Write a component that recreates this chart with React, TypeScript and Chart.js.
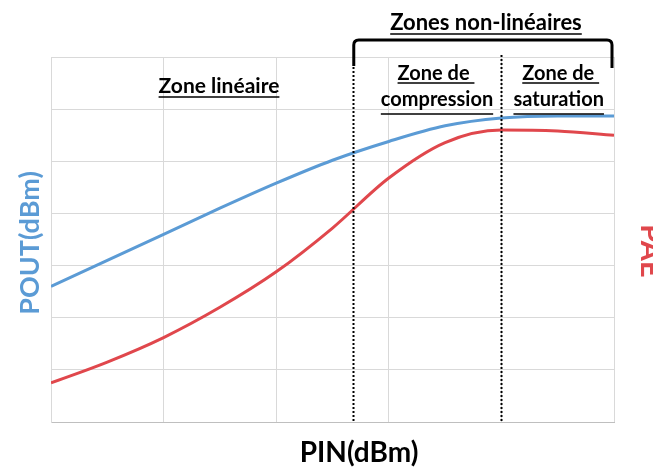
import React, { useEffect, useRef } from "react";
import { Chart, registerables } from "chart.js";

Chart.register(...registerables);

const pinValues = [0, 0.5, 1, 1.5, 2, 2.5, 3, 3.5, 4, 4.5, 5];
const poutValues = [2.6, 3.1, 3.6, 4.1, 4.58, 5.02, 5.38, 5.68, 5.83, 5.87, 5.87];
const paeValues = [0.75, 1.15, 1.62, 2.2, 2.88, 3.72, 4.68, 5.36, 5.6, 5.58, 5.5];
const zoneBoundaries = [2.68, 4];
const xTicks = [0, 1, 2, 3, 4, 5];
const yTicks = [0, 1, 2, 3, 4, 5, 6, 7];

const FONT = "Lato, 'Open Sans', sans-serif";

function underlinedText(ctx: CanvasRenderingContext2D, text: string, x: number, y: number, size: number, ul = 4) {
  ctx.font = `bold ${size}px ${FONT}`;
  ctx.textAlign = "center";
  ctx.textBaseline = "alphabetic";
  ctx.fillStyle = "#000";
  ctx.fillText(text, x, y);
  const w = ctx.measureText(text).width;
  ctx.strokeStyle = "#000";
  ctx.lineWidth = 1.6;
  ctx.beginPath();
  ctx.moveTo(x - w / 2, y + ul);
  ctx.lineTo(x + w / 2, y + ul);
  ctx.stroke();
}

const annotations = {
  id: "annotations",
  afterDraw(chart: any) {
    const ctx: CanvasRenderingContext2D = chart.ctx;
    const xs = chart.scales.x;
    const area = chart.chartArea;
    ctx.save();
    // dotted zone boundaries
    ctx.strokeStyle = "#000";
    ctx.lineWidth = 2;
    ctx.setLineDash([2, 2]);
    const tops = [area.top + 10, area.top - 2];
    zoneBoundaries.forEach((b, i) => {
      const px = Math.round(xs.getPixelForValue(b)) + 0.5;
      ctx.beginPath();
      ctx.moveTo(px, tops[i]);
      ctx.lineTo(px, area.bottom);
      ctx.stroke();
    });
    ctx.setLineDash([]);
    // bracket
    const bl = xs.getPixelForValue(zoneBoundaries[0]);
    const br = area.right - 2;
    ctx.lineWidth = 3;
    ctx.beginPath();
    ctx.moveTo(bl + 1, area.top + 9);
    ctx.lineTo(bl + 1, area.top - 12);
    ctx.quadraticCurveTo(bl + 1, area.top - 17, bl + 6, area.top - 17);
    ctx.lineTo(br - 5, area.top - 17);
    ctx.quadraticCurveTo(br, area.top - 17, br, area.top - 12);
    ctx.lineTo(br, area.top + 11);
    ctx.stroke();

    underlinedText(ctx, "Zones non-linéaires", 486, 30, 22, 4);
    underlinedText(ctx, "Zone linéaire", 219, 93, 21, 4);
    const c1 = 437;
    const c2 = (xs.getPixelForValue(zoneBoundaries[1]) + area.right) / 2 + 1;
    underlinedText(ctx, "Zone de ", c1 - 1, 80, 20, 3);
    underlinedText(ctx, "compression", c1, 106, 20, 8);
    underlinedText(ctx, "Zone de ", c2 + 2, 80, 20, 3);
    underlinedText(ctx, "saturation", c2, 106, 20, 8);

    // axis titles
    ctx.font = `bold 28px ${FONT}`;
    ctx.fillStyle = "#000";
    ctx.textAlign = "center";
    ctx.textBaseline = "middle";
    ctx.fillText("PIN(dBm)", 359, 453);

    ctx.save();
    ctx.translate(30, 243);
    ctx.rotate(-Math.PI / 2);
    ctx.font = `bold 27px ${FONT}`;
    ctx.fillStyle = "#5B9BD5";
    ctx.fillText("POUT(dBm)", 0, 0);
    ctx.restore();

    ctx.save();
    ctx.translate(641, 251);
    ctx.rotate(Math.PI / 2);
    ctx.font = `bold 29px ${FONT}`;
    ctx.fillStyle = "#E0474C";
    ctx.textBaseline = "alphabetic";
    ctx.fillText("PAE", 0, 0);
    ctx.restore();

    ctx.restore();
  },
};

export default function App() {
  const ref = useRef<HTMLCanvasElement>(null);
  useEffect(() => {
    document.body.style.margin = "0";
    const chart = new Chart(ref.current!, {
      type: "line",
      data: {
        datasets: [
          {
            label: "POUT",
            data: pinValues.map((x, i) => ({ x, y: poutValues[i] })),
            borderColor: "#5B9BD5",
            borderWidth: 3,
            pointRadius: 0,
            cubicInterpolationMode: "monotone",
          },
          {
            label: "PAE",
            data: pinValues.map((x, i) => ({ x, y: paeValues[i] })),
            borderColor: "#E0474C",
            borderWidth: 3,
            pointRadius: 0,
            cubicInterpolationMode: "monotone",
          },
        ],
      },
      options: {
        animation: false,
        responsive: false,
        layout: { padding: { left: 51, right: 39, top: 57, bottom: 47 } },
        plugins: { legend: { display: false }, tooltip: { enabled: false } },
        scales: {
          x: {
            type: "linear",
            min: xTicks[0],
            max: xTicks[xTicks.length - 1],
            afterBuildTicks: (s: any) => { s.ticks = xTicks.map((v) => ({ value: v })); },
            ticks: { display: false },
            grid: { color: "#d9d9d9", drawTicks: false, lineWidth: 1 },
            border: { display: true, color: "#bfbfbf" },
          },
          y: {
            type: "linear",
            min: yTicks[0],
            max: yTicks[yTicks.length - 1],
            afterBuildTicks: (s: any) => { s.ticks = yTicks.map((v) => ({ value: v })); },
            ticks: { display: false },
            grid: { color: "#d9d9d9", drawTicks: false, lineWidth: 1 },
            border: { display: true, color: "#d9d9d9" },
          },
        },
      },
      plugins: [annotations],
    });
    return () => chart.destroy();
  }, []);
  return (
    <div style={{ width: 653, height: 469 }}>
      <canvas ref={ref} width={653} height={469} style={{ display: "block" }} />
    </div>
  );
}
